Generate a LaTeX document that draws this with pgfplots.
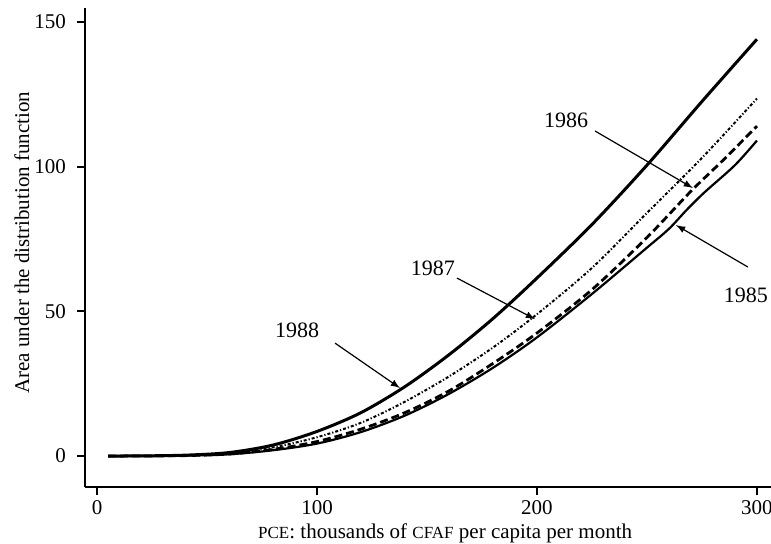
\documentclass[border=0pt]{standalone}
\usepackage{pgfplots}
\pgfplotsset{compat=1.18}
\usepackage{fontspec}
\setmainfont{Liberation Serif}
\newcommand\fsc[1]{{\fontsize{8.5}{10}\selectfont #1}}
\begin{document}
\begin{tikzpicture}
\useasboundingbox (-42.5pt,-28pt) rectangle (343pt,243.5pt);
\begin{axis}[
  scale only axis, width=343pt, height=239.5pt,
  xmin=-5.5, xmax=306.4, ymin=-10.7, ymax=154.8,
  axis lines=left, axis line style={-, line width=0.9pt},
  tick align=outside, major tick length=4pt,
  tick style={line width=0.9pt, black},
  xtick={0,100,200,300}, ytick={0,50,100,150},
  /pgf/number format/assume math mode=true,
  tick label style={font=\fontsize{10.5}{12}\selectfont},
  yticklabel style={xshift=-2pt},
  xticklabel style={yshift=1pt},
  xlabel={\fsc{PCE}: thousands of \fsc{CFAF} per capita per month},
  ylabel={Area under the distribution function},
  xlabel style={at={(axis description cs:0.525,-0.096)}, anchor=center},
  ylabel style={at={(axis description cs:-0.092,0.51)}, anchor=center},
  label style={font=\fontsize{10.5}{12}\selectfont},
  clip=false,
]
% 1988
\addplot[black, line width=1.5pt, smooth] coordinates {
(5,0) (20,0.05) (40,0.3) (60,1.2) (80,3.8) (100,8.5) (120,15) (140,24) (160,35) (180,47.5) (200,61.5) (225,80) (250,100.5) (275,122.5) (300,144)};
% 1987
\addplot[black, line width=1pt, smooth, dash pattern=on 1.5pt off 1pt on 0.6pt off 1pt] coordinates {
(5,0) (20,0.03) (40,0.2) (60,0.9) (80,3) (100,6.5) (120,11.5) (140,18.8) (160,27.5) (180,37.5) (200,49) (225,65) (250,84) (275,103) (300,123.5)};
% 1986
\addplot[black, line width=1.4pt, smooth, dash pattern=on 4pt off 2pt] coordinates {
(5,0) (20,0.02) (40,0.15) (60,0.7) (80,2.3) (100,5) (120,9.3) (140,15) (160,22.5) (180,32) (200,42.5) (225,57.5) (250,75.5) (270,91.5) (285,102.5) (300,114)};
% 1985
\addplot[black, line width=1.1pt, smooth] coordinates {
(5,0) (20,0.02) (40,0.15) (60,0.6) (80,2) (100,4.3) (120,8.3) (140,14) (160,21.5) (180,30.5) (200,41) (225,56) (250,72) (260,78.5) (268,85) (276,91) (290,100.5) (300,109)};

\node[font=\fontsize{11}{13}\selectfont] at (axis cs:90.9,43.5) {1988};
\node[font=\fontsize{11}{13}\selectfont] at (axis cs:152.7,65.0) {1987};
\node[font=\fontsize{11}{13}\selectfont] at (axis cs:213.2,116.1) {1986};
\node[font=\fontsize{11}{13}\selectfont] at (axis cs:295,55.6) {1985};
\draw[-latex, line width=0.6pt] (axis cs:108.2,39.0) -- (axis cs:137.7,23.5);
\draw[-latex, line width=0.6pt] (axis cs:163.6,61.5) -- (axis cs:199.1,47.3);
\draw[-latex, line width=0.6pt] (axis cs:226.4,112.3) -- (axis cs:270.9,92.6);
\draw[-latex, line width=0.6pt] (axis cs:295.9,65.3) -- (axis cs:263.2,79.8);
\end{axis}
\end{tikzpicture}
\end{document}
